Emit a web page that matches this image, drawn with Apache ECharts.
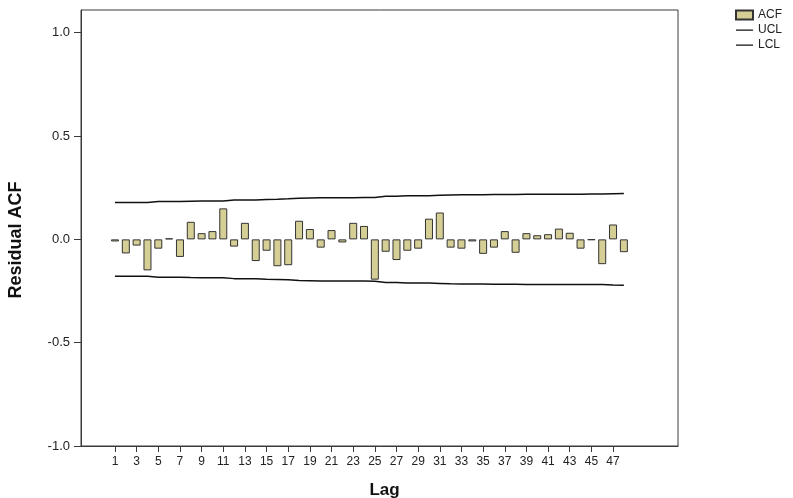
<!DOCTYPE html>
<html>
<head>
<meta charset="utf-8">
<title>Residual ACF</title>
<script src="https://cdn.jsdelivr.net/npm/echarts@6/dist/echarts.min.js"></script>
<style>
  html, body { margin: 0; padding: 0; background: #fff; }
  #chart { width: 793px; height: 498px; }
</style>
</head>
<body>
<div id="chart"></div>
<script>
// Lags 1..48
var lags = [];
for (var i = 1; i <= 48; i++) lags.push(i);

// Residual autocorrelation at each lag
var acf = [
  -0.010, -0.068, -0.030, -0.150, -0.045,  0.005, -0.085,  0.085,
   0.030,  0.040,  0.150, -0.035,  0.080, -0.105, -0.055, -0.130,
  -0.125,  0.090,  0.050, -0.040,  0.045, -0.015,  0.080,  0.065,
  -0.195, -0.060, -0.100, -0.055, -0.045,  0.100,  0.130, -0.040,
  -0.045, -0.010, -0.070, -0.040,  0.040, -0.065,  0.030,  0.020,
   0.025,  0.052,  0.032, -0.045, -0.003, -0.120,  0.072, -0.062
];

// Upper confidence limit per lag (lower limit is its mirror)
var ucl = [
  0.178, 0.178, 0.179, 0.179, 0.183, 0.183, 0.183, 0.185,
  0.186, 0.186, 0.186, 0.190, 0.190, 0.191, 0.193, 0.194,
  0.196, 0.199, 0.200, 0.201, 0.201, 0.201, 0.201, 0.202,
  0.203, 0.209, 0.209, 0.211, 0.211, 0.211, 0.213, 0.215,
  0.216, 0.216, 0.216, 0.217, 0.217, 0.217, 0.218, 0.218,
  0.218, 0.218, 0.218, 0.218, 0.219, 0.219, 0.221, 0.222
];
var lcl = ucl.map(function (v) { return -v; });

// Tick labels
var xTicks = [1,3,5,7,9,11,13,15,17,19,21,23,25,27,29,31,33,35,37,39,41,43,45,47];
var yTicks = [-1.0, -0.5, 0.0, 0.5, 1.0];

function pairs(xs, ys) { return xs.map(function (x, k) { return [x, ys[k]]; }); }

// Legend glyph for the limit lines: a thin stroke across a 17x9 box
// (tiny corner specks keep the box extent so the stroke is not stretched)
var lineIcon = 'path://M0,0 L0.01,0 L0,0.01 Z M0,3.9 L17,3.9 L17,5.3 L0,5.3 Z M17,9 L16.99,9 L17,8.99 Z';

var axisColor = '#3a3a3a';
var font = '"Liberation Sans", Arial, sans-serif';
var chart = echarts.init(document.getElementById('chart'), null, { renderer: 'canvas' });

chart.setOption({
  backgroundColor: '#ffffff',
  animation: false,
  textStyle: { fontFamily: font },
  grid: {
    left: 81, top: 10, right: 115, bottom: 52,
    outerBoundsMode: 'none',
    show: true, borderColor: axisColor, borderWidth: 1, backgroundColor: 'transparent'
  },
  legend: {
    orient: 'vertical',
    left: 735, top: 9,
    padding: 0,
    itemWidth: 17, itemHeight: 9, itemGap: 3,
    textStyle: { fontSize: 12, color: '#222', fontFamily: font },
    data: [
      { name: 'ACF', icon: 'rect' },
      { name: 'UCL', icon: lineIcon },
      { name: 'LCL', icon: lineIcon }
    ]
  },
  xAxis: {
    type: 'value',
    min: -2.14, max: 53,
    name: 'Lag',
    nameLocation: 'middle',
    nameGap: 36,
    nameTextStyle: { fontSize: 17, fontWeight: 'bold', color: '#111', padding: [0, 0, 0, 10] },
    axisLine: { show: true, onZero: false, lineStyle: { color: axisColor, width: 1 } },
    axisTick: { show: true, length: 6, lineStyle: { color: axisColor }, customValues: xTicks },
    axisLabel: { color: '#222', fontSize: 12, margin: 10, customValues: xTicks },
    splitLine: { show: false }
  },
  yAxis: {
    type: 'value',
    min: -1, max: 1.11,
    name: 'Residual ACF',
    nameLocation: 'middle',
    nameGap: 56,
    nameTextStyle: { fontSize: 18, fontWeight: 'bold', color: '#111', padding: [0, 24, 0, 0] },
    axisLine: { show: true, onZero: false, lineStyle: { color: axisColor, width: 1 } },
    axisTick: { show: true, length: 7, lineStyle: { color: axisColor }, customValues: yTicks },
    axisLabel: {
      color: '#222', fontSize: 13, margin: 11, customValues: yTicks,
      formatter: function (v) { return v.toFixed(1); }
    },
    splitLine: { show: false }
  },
  series: [
    {
      name: 'ACF',
      type: 'bar',
      barWidth: 8,
      data: pairs(lags, acf),
      itemStyle: { color: '#d5cf96', borderColor: '#333', borderWidth: 1 }
    },
    {
      name: 'UCL',
      type: 'line',
      symbol: 'none',
      data: pairs(lags, ucl),
      lineStyle: { color: '#111', width: 1.5 },
      itemStyle: { color: '#111' }
    },
    {
      name: 'LCL',
      type: 'line',
      symbol: 'none',
      data: pairs(lags, lcl),
      lineStyle: { color: '#111', width: 1.5 },
      itemStyle: { color: '#111' }
    }
  ]
});
</script>
</body>
</html>
